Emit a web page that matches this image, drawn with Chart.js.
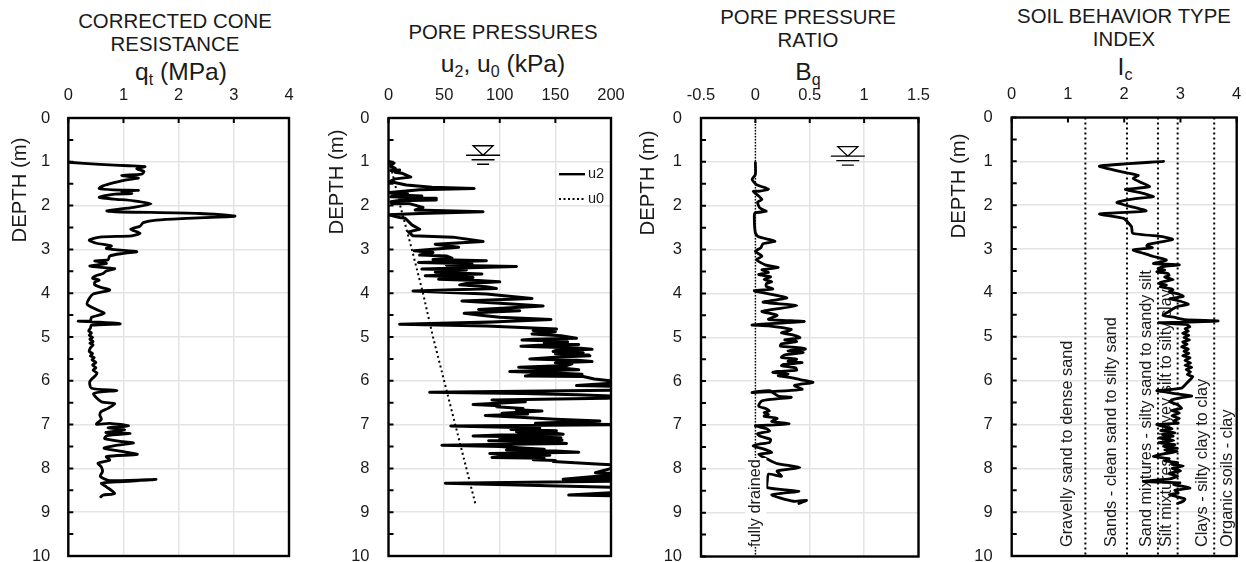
<!DOCTYPE html>
<html><head><meta charset="utf-8">
<script src="https://cdn.jsdelivr.net/npm/chart.js@4/dist/chart.umd.min.js"></script>
<style>
html,body{margin:0;padding:0;background:#fff;overflow:hidden;width:1246px;height:562px}
canvas{position:absolute;top:0}
.h{position:absolute;transform:translateX(-50%);white-space:nowrap;font-family:"Liberation Sans",Arial,sans-serif;color:#1a1a1a;text-align:center}
.t{font-size:20.4px;line-height:23px}
.a{font-size:24.6px;line-height:26px}
.a sub{font-size:16px;line-height:0;vertical-align:-5px}
</style></head><body>
<div class="h t" style="left:175px;top:10px">CORRECTED CONE<br>RESISTANCE</div>
<div class="h a" style="left:181px;top:59px">q<sub>t</sub> (MPa)</div>
<div class="h t" style="left:503px;top:21px">PORE PRESSURES</div>
<div class="h a" style="left:503px;top:51px">u<sub>2</sub>, u<sub>0</sub> (kPa)</div>
<div class="h t" style="left:808px;top:6px">PORE PRESSURE<br>RATIO</div>
<div class="h a" style="left:808px;top:59px">B<sub>q</sub></div>
<div class="h t" style="left:1124px;top:5px">SOIL BEHAVIOR TYPE<br>INDEX</div>
<div class="h a" style="left:1125px;top:54px">I<sub>c</sub></div>
<canvas id="c1"></canvas><canvas id="c2"></canvas><canvas id="c3"></canvas><canvas id="c4"></canvas>
<script>
const depthTicks=[0,1,2,3,4,5,6,7,8,9,10];

const qtDepth=[1.01,1.06,1.09,1.11,1.16,1.22,1.28,1.31,1.37,1.41,
1.47,1.55,1.61,1.64,1.65,1.68,1.72,1.74,1.81,1.85,
1.89,1.96,2.04,2.12,2.14,2.18,2.24,2.29,2.33,2.39,
2.47,2.54,2.63,2.69,2.72,2.79,2.86,2.92,2.98,3.05,
3.09,3.15,3.24,3.26,3.32,3.38,3.44,3.5,3.55,3.6,
3.66,3.7,3.75,3.81,3.87,3.93,4.02,4.12,4.25,4.37,
4.46,4.55,4.63,4.64,4.66,4.7,4.73,4.8,4.86,4.91,4.96,5.01,5.05,
5.1,5.14,5.18,5.25,5.33,5.38,5.43,5.47,5.52,5.58,5.64,5.7,5.76,5.82,5.87,6.02,6.17,6.22,
6.29,6.48,6.52,6.63,6.7,6.78,6.88,6.99,6.97,7.03,
7.07,7.12,7.18,7.2,7.25,7.32,7.39,7.42,7.48,7.54,7.62,
7.68,7.73,7.81,7.88,7.97,8.07,8.18,8.28,8.25,8.31,
8.34,8.42,8.57,8.61,8.65,8.8];
const qtValues=[0,.57,1.09,1.39,1.24,1.37,1.33,.97,1.27,1.05,
.85,.63,.56,.82,1.27,.97,1.15,.85,.56,.82,
1.18,1.5,1.18,.7,.85,2.38,3.02,2.14,1.6,1.36,
1.3,1.13,1.3,1.15,.57,.38,.51,.78,.69,1.24,
1,.75,.72,.48,.69,.39,.84,.68,.63,.5,
.44,.56,.48,.48,.6,.75,.45,.38,.34,.51,
.65,.42,.4,.18,.57,.94,.42,.4,.37,.42,.38,.44,.39,
.45,.39,.45,.4,.38,.44,.4,.47,.43,.5,.44,.5,.45,.52,.5,.39,.42,.88,
.46,.6,.84,.72,.6,.57,.6,.51,.75,1.09,
.72,1.02,.68,1.12,.7,.66,1,1.18,.84,.65,1.02,
1.25,.69,.75,.54,.6,.62,.58,.75,1.59,.87,
.6,.69,.84,.63,.59];

const u2Depth=[1,1.03,1.09,1.15,1.2,1.19,1.24,1.26,1.35,1.39,
1.45,1.53,1.58,1.61,1.64,1.7,1.72,1.75,1.78,1.8,
1.83,1.85,1.87,1.89,1.91,1.96,1.95,2.04,2.1,2.14,
2.18,2.21,2.27,2.29,2.44,2.54,2.6,2.69,2.72,2.82,
2.88,2.95,3.03,3.07,3.13,3.15,3.2,3.23,3.26,3.3,
3.33,3.36,3.39,3.45,3.47,3.49,3.52,3.56,3.6,3.62,3.64,3.68,3.71,3.74,
3.78,3.81,3.85,3.89,3.95,4.02,4.12,4.18,4.23,4.29,
4.37,4.4,4.46,4.51,4.55,4.6,4.67,4.65,4.71,4.75,
4.82,4.85,4.88,4.93,4.97,5.03,5.05,5.07,5.09,5.11,5.14,5.17,5.19,5.21,5.25,5.28,
5.31,5.33,5.36,5.38,5.41,5.43,5.46,5.5,5.53,5.56,5.59,5.61,5.65,5.69,5.72,5.75,
5.77,5.79,5.82,5.85,5.87,5.89,5.9,5.96,6,6.03,6.11,6.13,
6.21,6.26,6.29,6.32,6.36,6.4,6.44,6.46,6.48,6.54,6.57,6.59,
6.63,6.66,6.69,6.74,6.76,6.79,6.83,6.88,6.92,6.97,7,
7.03,7.08,7.11,7.14,7.16,7.18,7.2,7.22,7.24,7.26,7.28,7.3,7.33,7.35,7.37,7.4,7.43,7.45,
7.47,7.5,7.54,7.56,7.58,7.6,7.63,7.66,7.68,7.7,7.73,7.75,7.77,7.8,7.82,7.84,
7.9,7.93,8.1,8.12,8.25,8.22,8.29,8.34,8.44,8.5,
8.61,8.63];
const u2Values=[1,5,1.5,6,2,10,6,12,20,6,
1,16,39,77,28,1,17,3,30,2,
43,10,43,8,2,3,18,31,24,85,
28,0,10,15,21,28,18,22,58,85,
42,63,23,40,28,52,57,40,88,27,
75,52,115,30,70,58,42,84,33,60,76,45,80,100,
70,64,88,97,22,88,129,66,100,139,
81,118,68,85,100,146,82,100,10,88,
151,130,150,129,155,169,130,120,150,161,140,171,135,119,170,183,
150,148,175,150,180,181,150,127,170,183,150,165,160,117,160,171,
130,109,150,174,130,123,175,185,199,215,169,220,
230,37,120,170,215,196,93,120,123,76,100,97,
121,115,138,102,125,87,118,150,190,132,205,
56,136,110,151,115,118,150,157,100,76,120,155,100,156,90,150,160,110,
48,100,124,140,106,150,171,91,130,145,100,93,140,130,150,148,
187,210,186,215,157,215,220,51,220,240,
162,220];

const u0Depth=[1,2,3,4,5,6,7,8,8.8];
const u0Values=[1,10.5,21,31,40,50,60,70,78];

const bqDepth=[1.02,1.29,1.4,1.52,1.62,1.67,1.67,1.78,1.86,1.92,
2.05,2.13,2.16,2.24,2.62,2.71,2.81,2.87,2.96,3.04,
3.15,3.23,3.35,3.41,3.46,3.52,3.57,3.62,3.68,3.73,3.78,3.84,
3.9,3.94,4.1,4.2,4.28,4.41,4.5,4.59,4.64,4.72,
4.74,4.82,4.86,4.9,4.95,5.01,5.06,5.1,5.15,5.2,5.24,5.27,5.31,5.35,5.4,5.46,5.5,5.55,5.58,
5.62,5.65,5.7,5.75,5.78,5.8,5.84,5.88,5.92,5.97,6.03,6.1,6.19,6.26,
6.22,6.34,6.37,6.45,6.57,6.63,6.68,6.72,6.76,6.8,6.85,6.92,6.97,7,
7.02,7.08,7.14,7.2,7.25,7.33,7.4,7.44,7.48,7.55,7.63,7.67,7.79,
7.88,7.97,8.05,8.17,8.12,8.27,8.43,8.51,8.59,8.74,
8.72,8.79];
const bqValues=[0,0,-.03,.01,.12,.04,-.02,.03,.06,.02,
.04,.1,0,-.01,0,.03,.18,.07,.05,0,
.06,.01,.09,.21,.06,.12,.03,.14,.08,.15,.1,.1,
.16,-.01,.29,.07,.38,.06,.2,.12,.45,-.03,
.12,.33,.3,.24,.35,.41,.27,.38,.24,.23,.42,.46,.3,.44,.27,.24,.38,.3,.43,
.26,.24,.37,.38,.2,.16,.3,.21,.33,.42,.53,.36,.43,-.03,
.13,.21,.33,.06,.03,.1,.13,.08,.12,.08,.2,.15,.31,.18,
0,.1,.13,.02,.04,.14,.13,.03,-.02,.08,.15,.03,.12,
.2,.41,.2,.24,.12,.11,.11,.4,.15,.35,
.47,.4];
const fullyDrainedDepth=[0,10];
const fullyDrainedValues=[0,0];

const icDepth=[1,1.11,1.26,1.32,1.39,1.47,1.58,1.64,1.72,1.81,
1.85,1.94,2.13,2.2,2.3,2.49,2.64,2.72,2.78,2.89,
2.93,2.97,3.02,3.1,3.17,3.25,3.3,3.33,3.36,3.4,3.45,3.48,3.52,3.56,3.6,3.64,3.7,3.74,3.78,3.82,3.86,3.9,3.93,3.97,
4.03,4.08,4.13,4.19,4.26,4.31,4.36,4.42,4.51,4.56,4.61,4.64,4.67,4.68,4.72,4.77,4.82,4.87,4.92,4.97,
5.02,5.07,5.12,5.17,5.23,5.28,5.33,5.38,5.43,5.48,5.54,5.6,5.65,5.7,5.75,5.8,5.86,5.91,5.97,
6.06,6.17,6.23,6.26,6.29,6.35,6.39,6.44,6.48,6.55,6.63,6.68,6.74,6.8,6.86,6.92,6.97,7,
7.05,7.1,7.14,7.19,7.23,7.27,7.31,7.36,7.42,7.46,7.5,7.54,7.58,7.62,7.67,7.73,7.78,7.83,7.87,7.91,7.95,
8,8.06,8.12,8.18,8.24,8.3,8.33,8.37,8.45,8.5,8.56,8.6,8.65,8.7,8.75,8.8];
const icValues=[2.7,1.56,2.04,2.25,2.16,2.28,2.45,2.02,2.3,2.52,
2.2,1.87,2.39,1.56,1.99,2.13,2.15,2.7,2.86,2.43,
2.4,2.5,2.16,2.35,2.52,2.75,2.62,2.52,2.98,2.7,2.6,2.72,2.58,2.78,2.8,2.72,2.87,2.7,2.62,2.75,2.64,2.82,2.87,2.8,
2.98,3.05,2.81,3,3.14,2.95,2.87,2.8,2.69,2.9,3.08,3.67,3,2.61,3.1,3.17,3.08,3.14,3.04,3.15,
3.06,3.16,3.04,3.12,3.02,3.14,3.06,3.15,3.04,3.17,3.08,3.18,3.08,3.2,3.1,3.18,3.12,3.22,3.18,
3.11,3.02,2.58,2.75,2.87,3.2,3.02,2.85,2.81,2.95,3.02,2.85,2.98,2.85,2.98,2.88,2.96,2.58,
2.72,2.85,2.65,2.9,2.68,2.87,2.62,2.88,2.61,2.9,2.7,2.94,2.72,2.94,2.7,2.52,2.8,2.72,2.95,2.85,3.05,
2.85,3,2.8,2.95,2.81,2.34,2.99,2.88,3.17,2.9,2.96,2.8,2.95,3.08,3.05,2.95];
const icBoundaries=[1.31,2.05,2.6,2.95,3.6];
const icZoneLabels=["Gravelly sand to dense sand","Sands - clean sand to silty sand","Sand mixtures - silty sand to sandy silt","Silt mixtures - clayey silt to silty clay","Clays - silty clay to clay","Organic soils - clay"];
const icZoneLabelValues=[1,1.78,2.4,2.76,3.4,3.83];

const pts=(xs,ys)=>{ const n=Math.min(xs.length,ys.length); return ys.slice(0,n).map((y,i)=>({x:xs[i],y})); };
const FONT='"Liberation Sans",Arial,sans-serif';
const INK='#1a1a1a';
const CH=600;
const tickFont={family:FONT,size:16.5};

function vtext(ctx,s,x,yBottom,size,align){
  ctx.save();ctx.translate(x,yBottom);ctx.rotate(-Math.PI/2);
  ctx.font=size+'px '+FONT;ctx.fillStyle=INK;ctx.textAlign=align||'left';ctx.textBaseline='middle';
  ctx.fillText(s,0,0);ctx.restore();
}
function waterTable(ctx,x,y){
  ctx.save();ctx.strokeStyle='#000';ctx.lineWidth=1.3;ctx.beginPath();
  ctx.moveTo(x-10,y-9.5);ctx.lineTo(x+10,y-9.5);ctx.lineTo(x,y);ctx.closePath();
  ctx.moveTo(x-17,y);ctx.lineTo(x+17,y);
  ctx.moveTo(x-11.5,y+4.5);ctx.lineTo(x+11.5,y+4.5);
  ctx.moveTo(x-6,y+9);ctx.lineTo(x+6,y+9);
  ctx.stroke();ctx.restore();
}
function frame(p){return {id:'frame',
  beforeDatasetsDraw(c){ if(p.under) p.under(c); },
  afterDatasetsDraw(c){
    const a=c.chartArea,ctx=c.ctx,sx=c.scales.x,sy=c.scales.y;
    if(p.over) p.over(c);
    ctx.save();ctx.strokeStyle='#000';ctx.lineWidth=2.4;
    ctx.strokeRect(a.left,a.top,a.right-a.left,a.bottom-a.top);
    ctx.lineWidth=2;ctx.beginPath();
    sy.ticks.forEach(t=>{const y=sy.getPixelForValue(t.value);ctx.moveTo(a.left,y);ctx.lineTo(a.left+5,y);});
    sx.ticks.forEach(t=>{const x=sx.getPixelForValue(t.value);ctx.moveTo(x,a.top);ctx.lineTo(x,a.top+5);});
    ctx.stroke();ctx.restore();
    vtext(ctx,'DEPTH (m)',p.depthX,p.depthY,20.3,'center');
  }};}

function panel(id,left,width,plotL,plotR,xOpt,datasets,p,vgrid){
  const cv=document.getElementById(id);cv.width=width;cv.height=CH;cv.style.left=left+'px';
  cv.style.width=width+'px';cv.style.height=CH+'px';
  return new Chart(cv,{type:'scatter',data:{datasets},
   plugins:[frame(p)],
   options:{responsive:false,animation:false,
    layout:{padding:{left:0,top:0,right:left+width-plotR,bottom:CH-p.bottom}},
    plugins:{legend:{display:false},tooltip:{enabled:false},title:{display:false}},
    elements:{point:{radius:0}},
    scales:{
     x:Object.assign({type:'linear',position:'top',
       afterFit(s){s.height=p.top;s.paddingLeft=0;s.paddingRight=0;},
       border:{display:false},
       grid:{display:vgrid,color:'#e4e4e4',lineWidth:1.5,drawTicks:false}},xOpt),
     y:{type:'linear',reverse:true,min:0,max:10,position:'left',
       afterFit(s){s.width=plotL-left;s.paddingTop=0;s.paddingBottom=0;},
       border:{display:false},
       afterBuildTicks(s){s.ticks=[];for(let i=0;i<=20;i++)s.ticks.push({value:i/2});},
       grid:{color:c=>Number.isInteger(c.tick.value)?'#e4e4e4':'rgba(0,0,0,0)',lineWidth:1.5,drawTicks:false},
       ticks:{autoSkip:false,padding:p.ypad,color:INK,font:tickFont,
         callback:v=>depthTicks.includes(v)?String(v):''}}
    }}});
}
const xt=step=>({stepSize:step,autoSkip:false,maxRotation:0,padding:13,color:INK,font:tickFont,callback:v=>String(v)});
const curve=(label,xs,ys,tension,width)=>({label,data:pts(xs,ys),showLine:true,borderColor:'#000',backgroundColor:'#000',
  borderWidth:width||2.8,tension:tension,borderJoinStyle:'round',borderCapStyle:'round',pointRadius:0});
const dotted=(label,xs,ys,w,dash)=>({label,data:pts(xs,ys),showLine:true,borderColor:'#000',borderWidth:w,borderDash:dash,pointRadius:0,tension:0});

panel('c1',0,310,68.3,289,{min:0,max:4,ticks:xt(1)},
  [curve('qt',qtValues,qtDepth,.25)],{top:118,bottom:556,ypad:18,depthX:20,depthY:190},true);

panel('c2',315,320,388.5,611,{min:0,max:200,ticks:xt(50)},
  [curve('u2',u2Values,u2Depth,0,3),dotted('u0',u0Values,u0Depth,2,[2,3])],
  {top:118,bottom:556,ypad:19,depthX:337-315,depthY:182,
   over(c){
     const ctx=c.ctx,sx=c.scales.x,sy=c.scales.y;
     waterTable(ctx,sx.getPixelForValue(85),sy.getPixelForValue(.85));
     ctx.save();ctx.font='14.5px '+FONT;ctx.fillStyle=INK;ctx.textBaseline='middle';
     const lx=559-315;
     ctx.fillStyle='#000';ctx.fillRect(lx,173,26,2.4);
     ctx.fillStyle=INK;ctx.fillText(c.data.datasets[0].label,lx+29,174);
     ctx.strokeStyle='#000';ctx.lineWidth=2;ctx.setLineDash([2,2.5]);ctx.beginPath();ctx.moveTo(lx,199);ctx.lineTo(lx+26,199);ctx.stroke();
     ctx.fillText(c.data.datasets[1].label,lx+29,199);
     ctx.restore();
   }},true);

panel('c3',630,310,701,918.5,{min:-.5,max:1.5,ticks:xt(.5)},
  [dotted('fully drained',fullyDrainedValues,fullyDrainedDepth,1.4,[1.5,1.5]),curve('Bq',bqValues,bqDepth,.2)],
  {top:118,bottom:556.5,ypad:19,depthX:648-630,depthY:183,
   over(c){
     const ctx=c.ctx,sx=c.scales.x,sy=c.scales.y,x0=sx.getPixelForValue(0);
     ctx.save();ctx.fillStyle='#fff';ctx.fillRect(x0-10,458,21,89);ctx.restore();
     vtext(ctx,'fully drained',x0,547,16.3);
     waterTable(ctx,sx.getPixelForValue(.85),sy.getPixelForValue(.87));
   }},true);

panel('c4',940,306,1011.7,1236.7,{min:0,max:4,ticks:xt(1)},
  icBoundaries.map(b=>dotted('boundary',[b,b],[0,10],2,[2,3])).concat([curve('Ic',icValues,icDepth,.15)]),
  {top:117.5,bottom:556,ypad:19,depthX:959-940,depthY:186,
   under(c){
     const sx=c.scales.x;
     icZoneLabels.forEach((s,i)=>vtext(c.ctx,s,sx.getPixelForValue(icZoneLabelValues[i]),547,16.3));
   }},false);
</script>
</body></html>
